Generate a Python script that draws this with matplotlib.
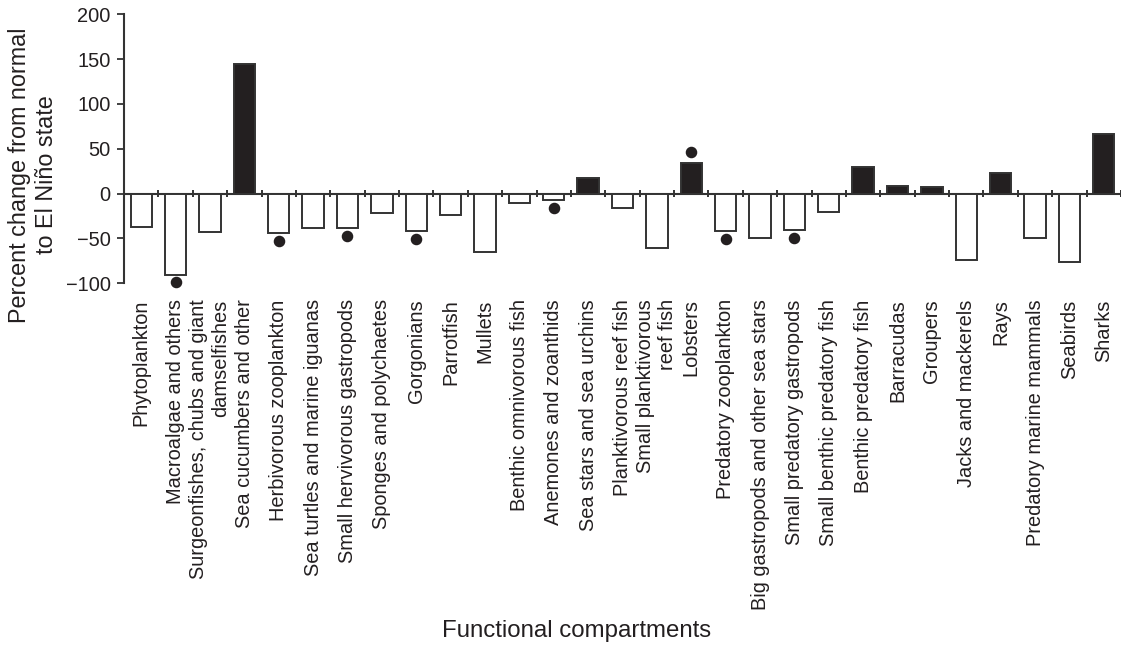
import numpy as np
import matplotlib
matplotlib.use("Agg")
import matplotlib.pyplot as plt

plt.rcParams["font.family"] = ["Liberation Sans", "DejaVu Sans"]

categories = [
    "Phytoplankton",
    "Macroalgae and others",
    "Surgeonfishes, chubs and giant\ndamselfishes",
    "Sea cucumbers and other",
    "Herbivorous zooplankton",
    "Sea turtles and marine iguanas",
    "Small hervivorous gastropods",
    "Sponges and polychaetes",
    "Gorgonians",
    "Parrotfish",
    "Mullets",
    "Benthic omnivorous fish",
    "Anemones and zoanthids",
    "Sea stars and sea urchins",
    "Planktivorous reef fish",
    "Small planktivorous\nreef fish",
    "Lobsters",
    "Predatory zooplankton",
    "Big gastropods and other sea stars",
    "Small predatory gastropods",
    "Small benthic predatory fish",
    "Benthic predatory fish",
    "Barracudas",
    "Groupers",
    "Jacks and mackerels",
    "Rays",
    "Predatory marine mammals",
    "Seabirds",
    "Sharks",
]

percent_change = [
    -37, -91, -43, 144, -44, -38, -38, -22, -42, -24,
    -65, -10, -7, 17, -16, -61, 34, -42, -50, -41,
    -21, 30, 8, 7, -74, 23, -49, -76, 67,
]

# Secondary estimate shown as a dot (None where absent)
dot_values = [
    None, -99, None, None, -53, None, -47, None, -51, None,
    None, None, -16, None, None, None, 46, -51, None, -50,
    None, None, None, None, None, None, None, None, None,
]

y_ticks = [-100, -50, 0, 50, 100, 150, 200]

ink = "#231f20"
line = "#333333"

fig = plt.figure(figsize=(11.21, 6.46), dpi=100)
ax = fig.add_axes([124 / 1121, 1 - 283.3 / 646, 997 / 1121, (283.3 - 14.2) / 646])

x = np.arange(len(categories))
vals = np.array(percent_change, dtype=float)
fills = [ink if v > 0 else "white" for v in vals]

ax.axhline(0, color=line, lw=1.5, zorder=1)
ax.bar(x, vals, width=0.62, color=fills, edgecolor=line, linewidth=1.4, zorder=2)

dx = [i for i, d in enumerate(dot_values) if d is not None]
dy = [d for d in dot_values if d is not None]
ax.plot(dx, dy, "o", color=ink, markersize=7.3, zorder=3, clip_on=False)

# boundary ticks across the zero line
ax.vlines(np.arange(0.5, len(categories), 1.0), -4.2, 4.2, color=line, lw=1.4,
          zorder=1, clip_on=False)

ax.set_xlim(-0.5, len(categories) - 0.5)
ax.set_ylim(-100, 200)
ax.set_yticks(y_ticks)
ax.tick_params(axis="y", direction="out", length=5.2, width=1.3, color=line,
               labelsize=14.4, labelcolor=ink, pad=4.5)
ax.set_xticks(x)
ax.set_xticklabels(categories, rotation=90, multialignment="right",
                   fontsize=14.4, color=ink)
ax.tick_params(axis="x", length=0, pad=11.5)

for side in ("top", "right", "bottom"):
    ax.spines[side].set_visible(False)
ax.spines["left"].set_color(line)
ax.spines["left"].set_linewidth(1.5)

fig.text(33 / 1121, 1 - 175 / 646, "Percent change from normal\nto El Niño state",
         rotation=90, ha="center", va="center", fontsize=16.8, color=ink,
         linespacing=1.2)
fig.text(577 / 1121, 1 - 637 / 646, "Functional compartments", ha="center",
         va="baseline", fontsize=17.3, color=ink)

fig.savefig("out.png", dpi=100)
